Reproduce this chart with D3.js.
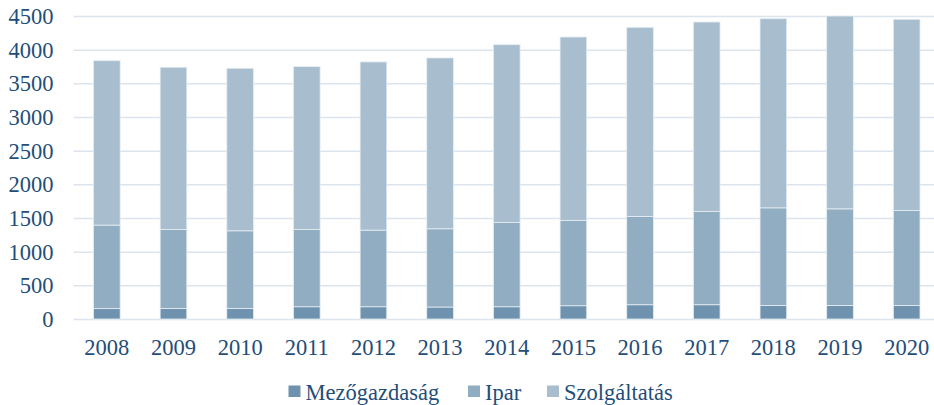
<!DOCTYPE html>
<html lang="hu">
<head>
<meta charset="UTF-8">
<title>Foglalkoztatottak ágazatonként</title>
<script src="https://d3js.org/d3.v7.min.js"></script>
<style>
    body { margin: 0; background: #fff; }
    svg text { font-family: "Liberation Serif", "Times New Roman", Times, serif; fill: #1f4e79; }
    .grid line { stroke: #dce5ee; stroke-width: 1.5; }
    .grid path { display: none; }
</style>
</head>
<body>
<svg width="934" height="405"></svg>
<script>
    // Years and values per sector
    const years = ["2008", "2009", "2010", "2011", "2012", "2013", "2014", "2015", "2016", "2017", "2018", "2019", "2020"];
    const mezogazdasag = [154, 157, 157, 182, 182, 178, 182, 197, 212, 212, 202, 202, 202];
    const ipar = [1241, 1172, 1153, 1147, 1138, 1162, 1251, 1266, 1310, 1384, 1449, 1434, 1409];
    const szolgaltatas = [2441, 2410, 2414, 2419, 2498, 2537, 2641, 2725, 2810, 2815, 2809, 2864, 2840];
    const yTicks = [0, 500, 1000, 1500, 2000, 2500, 3000, 3500, 4000, 4500];

    const seriesNames = ["Mezőgazdaság", "Ipar", "Szolgáltatás"];
    const colors = ["#6f93ae", "#91adc2", "#a8bece"];

    const svg = d3.select("svg");
    const margin = {top: 16, right: -6, bottom: 86, left: 73.5};
    const width = +svg.attr("width") - margin.left - margin.right;
    const height = +svg.attr("height") - margin.top - margin.bottom;

    const rows = years.map((y, i) => ({
        year: y,
        "Mezőgazdaság": mezogazdasag[i],
        "Ipar": ipar[i],
        "Szolgáltatás": szolgaltatas[i]
    }));
    const stacked = d3.stack().keys(seriesNames)(rows);

    const x = d3.scaleBand().domain(years).range([0, width]).paddingInner(0.6).paddingOuter(0.3);
    const y = d3.scaleLinear().domain([0, 4500]).range([height, 0]);

    const g = svg.append("g").attr("transform", `translate(${margin.left},${margin.top})`);

    // gridlines
    g.append("g")
        .attr("class", "grid")
        .call(d3.axisLeft(y).tickValues(yTicks).tickSize(-width).tickFormat(""));

    // y labels
    g.append("g")
        .selectAll("text")
        .data(yTicks)
        .join("text")
        .attr("x", -20)
        .attr("y", d => y(d))
        .attr("dy", "0.35em")
        .attr("text-anchor", "end")
        .style("font-size", "22.5px")
        .text(d => d);

    // bars
    g.selectAll(".layer")
        .data(stacked)
        .join("g")
        .attr("class", "layer")
        .attr("fill", (d, i) => colors[i])
        .selectAll("rect")
        .data(d => d)
        .join("rect")
        .attr("x", d => x(d.data.year))
        .attr("y", d => y(d[1]))
        .attr("width", x.bandwidth())
        .attr("height", d => y(d[0]) - y(d[1]))
        .attr("stroke", "#e6edf3")
        .attr("stroke-width", 0.8);

    // x labels
    g.append("g")
        .selectAll("text")
        .data(years)
        .join("text")
        .attr("x", d => x(d) + x.bandwidth() / 2)
        .attr("y", height + 36)
        .attr("text-anchor", "middle")
        .style("font-size", "22.5px")
        .text(d => d);

    // legend
    const legendX = [288.5, 468, 547];
    const legend = svg.append("g")
        .selectAll("g")
        .data(seriesNames)
        .join("g")
        .attr("transform", (d, i) => `translate(${legendX[i]},391.5)`);
    legend.append("rect")
        .attr("y", -6)
        .attr("width", 12)
        .attr("height", 11.5)
        .attr("fill", (d, i) => colors[i]);
    legend.append("text")
        .attr("x", 17)
        .attr("y", 8.5)
        .style("font-size", "22.5px")
        .text(d => d);
</script>
</body>
</html>
